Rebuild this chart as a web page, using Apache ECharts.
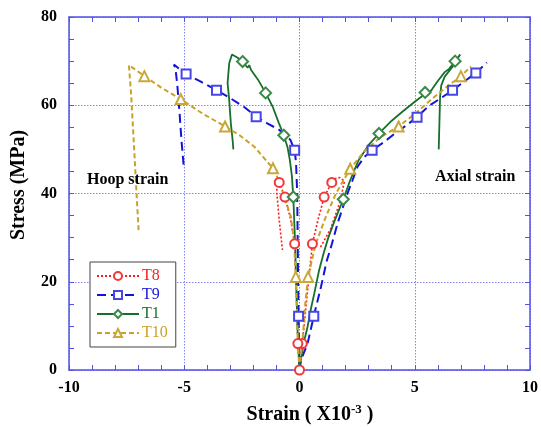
<!DOCTYPE html>
<html>
<head>
<meta charset="utf-8">
<script src="https://cdn.jsdelivr.net/npm/echarts@6/dist/echarts.min.js"></script>
<style>html,body{margin:0;padding:0;background:#fff}#c{width:541px;height:427px}</style>
</head>
<body>
<div id="c"></div>
<script>
// ---- data (strain x10^-3, stress MPa) ----
var xTicks = [-10, -5, 0, 5, 10];
var yTicks = [0, 20, 40, 60, 80];

var t8Axial = [[0,0],[0.12,6],[0.22,11],[0.33,17],[0.45,23],[0.56,28.6],[0.8,34],[1.07,39.2],[1.4,42.5],[1.55,43.4],[1.75,43.6],[1.95,42.8],[1.75,38],[1.35,32],[0.87,27.4]];
var t8AxialMarks = [[0,0],[0.12,6],[0.56,28.6],[1.07,39.2],[1.4,42.5]];
var t8Hoop = [[0,0],[-0.07,6],[-0.13,17],[-0.21,28.6],[-0.4,34.5],[-0.63,39.2],[-0.88,42.5],[-1.0,43.3],[-0.98,40],[-0.88,34],[-0.74,27.2]];
var t8HoopMarks = [[-0.07,6],[-0.21,28.6],[-0.63,39.2],[-0.88,42.5]];

var t9Axial = [[0,0],[0.06,2.2],[0.35,6],[0.62,12.2],[0.93,18.8],[1.17,24.5],[1.4,28.5],[1.65,33.2],[2.08,40],[2.3,43],[2.51,46],[2.8,48.2],[3.15,49.8],[3.7,51.8],[4.14,53.6],[4.6,55.3],[5.1,57.3],[5.6,59.8],[6.1,61.5],[6.64,63.4],[7.1,65.2],[7.65,67.3],[8.13,69.7]];
var t9AxialMarks = [[0.62,12.2],[3.15,49.8],[5.1,57.3],[6.64,63.4],[7.65,67.3]];
var t9Hoop = [[0,0],[-0.02,5],[-0.04,12.2],[-0.06,20],[-0.08,30],[-0.1,40],[-0.15,47],[-0.21,49.8],[-0.4,52.2],[-0.9,54.5],[-1.4,55.9],[-1.88,57.4],[-2.4,59.6],[-3.0,61.6],[-3.6,63.4],[-4.3,65.4],[-4.92,67.1],[-5.2,68.2],[-5.45,69.2],[-5.38,68.3],[-5.3,64.5],[-5.2,58],[-5.12,52],[-5.02,46]];
var t9HoopMarks = [[-0.04,12.2],[-0.21,49.8],[-1.88,57.4],[-3.6,63.4],[-4.92,67.1]];

var t1Axial = [[0,0],[0.08,3],[0.2,6.5],[0.35,9.8],[0.5,14],[0.64,17.3],[0.85,22.6],[1.05,26.5],[1.25,30],[1.5,33.5],[1.9,38.7],[2.2,43],[2.55,47.4],[3.0,51],[3.45,53.6],[4.0,56.5],[4.5,58.7],[5.0,60.8],[5.3,62],[5.45,62.9],[5.55,62.3],[5.75,63.6],[6.0,65.5],[6.3,67.5],[6.5,68.3],[6.75,70],[6.97,71.5],[6.65,68.8],[6.3,66.5],[6.15,64.5],[6.1,62],[6.07,56],[6.04,50]];
var t1AxialMarks = [[1.9,38.7],[3.45,53.6],[5.45,62.9],[6.75,70]];
var t1Hoop = [[0,0],[-0.05,5],[-0.09,9.8],[-0.13,17],[-0.16,22.6],[-0.19,28.7],[-0.23,34],[-0.27,39.2],[-0.33,44],[-0.42,47.6],[-0.52,50.5],[-0.68,53.2],[-0.9,56],[-1.15,59.5],[-1.47,62.8],[-1.8,65.8],[-2.1,68],[-2.18,69.1],[-2.25,68.5],[-2.47,69.9],[-2.7,70.8],[-2.93,71.5],[-3.05,69.5],[-3.12,65],[-3.05,61.2],[-2.98,56],[-2.9,52],[-2.87,50]];
var t1HoopMarks = [[-0.27,39.2],[-0.68,53.2],[-1.47,62.8],[-2.47,69.9]];

var t10Axial = [[0,0],[0.15,8],[0.25,15],[0.37,21.1],[0.71,28.7],[1.14,34.7],[1.58,40],[2.2,45.6],[2.8,49.5],[3.5,52.7],[4.3,55.2],[5.0,58],[5.6,60.8],[6.3,63.8],[7.0,66.6],[7.44,68.8]];
var t10AxialMarks = [[0.37,21.1],[2.2,45.6],[4.3,55.2],[7.0,66.6]];
var t10Hoop = [[0,0],[-0.08,8],[-0.16,21.1],[-0.23,28.7],[-0.37,34.7],[-0.66,39.2],[-0.9,43],[-1.15,45.7],[-1.5,47.8],[-1.96,50.6],[-2.6,53.2],[-3.23,55.2],[-3.7,56.6],[-4.2,58.1],[-4.7,59.8],[-5.15,61.4],[-6.0,64],[-6.73,66.6],[-7.4,69.1],[-7.3,62],[-7.17,49.8],[-7.07,40],[-6.98,31.7]];
var t10HoopMarks = [[-0.16,21.1],[-1.15,45.7],[-3.23,55.2],[-5.15,61.4],[-6.73,66.6]];

var seriesNames = ['T8', 'T9', 'T1', 'T10'];
var annotations = ['Hoop strain', 'Axial strain'];

// ---- styles ----
var SERIF = '"Liberation Serif", "Times New Roman", serif';
var AXIS_COLOR = '#5252e6';
var GRID_COLOR = '#8585f2';
var styles = {
  T8:  {color: '#ff1a1a', mark: '#f03a3a', dash: [2, 2], width: 1.6, symbol: 'circle', size: 9},
  T9:  {color: '#1414d8', mark: '#4646e8', dash: [9, 5], width: 2,   symbol: 'rect',   size: 9},
  T1:  {color: '#17702a', mark: '#3c8a4a', dash: 'solid', width: 1.8, symbol: 'diamond', size: 11},
  T10: {color: '#c9a227', mark: '#c9a83a', dash: [5, 3], width: 2,   symbol: 'triangle', size: 10}
};

function makeSeries(name, pts, marks) {
  var s = styles[name];
  var isMark = function (p) {
    return marks.some(function (m) { return m[0] === p[0] && m[1] === p[1]; });
  };
  return {
    type: 'line',
    name: name,
    xAxisIndex: 0, yAxisIndex: 0,
    showSymbol: true,
    showAllSymbol: true,
    symbol: 'empty' + s.symbol.charAt(0).toUpperCase() + s.symbol.slice(1),
    symbolSize: s.size,
    itemStyle: {color: s.mark, borderColor: s.mark, borderWidth: 1},
    lineStyle: {color: s.color, width: s.width, type: s.dash},
    color: s.color,
    data: pts.map(function (p) {
      return isMark(p) ? {value: p} : {value: p, symbol: 'none'};
    }),
    animation: false,
    silent: true
  };
}

var series = [
  makeSeries('T8', t8Axial, t8AxialMarks),
  makeSeries('T9', t9Axial, t9AxialMarks),
  makeSeries('T1', t1Axial, t1AxialMarks),
  makeSeries('T10', t10Axial, t10AxialMarks),
  makeSeries('T8', t8Hoop, t8HoopMarks),
  makeSeries('T9', t9Hoop, t9HoopMarks),
  makeSeries('T1', t1Hoop, t1HoopMarks),
  makeSeries('T10', t10Hoop, t10HoopMarks)
];

function axisBase(min, max, interval, minorSplit) {
  return {
    type: 'value', min: min, max: max, interval: interval,
    axisLine: {show: true, onZero: false, lineStyle: {color: AXIS_COLOR, width: 1.5}},
    axisTick: {show: true, inside: true, length: 5, lineStyle: {color: AXIS_COLOR, width: 1}},
    minorTick: {show: true, splitNumber: minorSplit, length: 5, lineStyle: {color: AXIS_COLOR, width: 1}},
    splitLine: {show: false}
  };
}

var xMain = axisBase(xTicks[0], xTicks[xTicks.length - 1], xTicks[1] - xTicks[0], 5);
xMain.position = 'bottom';
xMain.axisLabel = {show: true, margin: 10, color: '#000', fontFamily: SERIF, fontWeight: 'bold', fontSize: 16};
xMain.splitLine = {show: true, lineStyle: {color: GRID_COLOR, type: [1.5, 1.5], width: 1}};
var xTop = axisBase(xTicks[0], xTicks[xTicks.length - 1], xTicks[1] - xTicks[0], 5);
xTop.position = 'top';
xTop.axisLabel = {show: false};

var yMain = axisBase(yTicks[0], yTicks[yTicks.length - 1], yTicks[1] - yTicks[0], 4);
yMain.position = 'left';
yMain.axisLabel = {show: true, margin: 12, color: '#000', fontFamily: SERIF, fontWeight: 'bold', fontSize: 16};
yMain.splitLine = {show: true, lineStyle: {color: GRID_COLOR, type: [1.5, 1.5], width: 1}};
var yRight = axisBase(yTicks[0], yTicks[yTicks.length - 1], yTicks[1] - yTicks[0], 4);
yRight.position = 'right';
yRight.axisLabel = {show: false};

var chart = echarts.init(document.getElementById('c'), null, {renderer: 'canvas'});
chart.setOption({
  animation: false,
  backgroundColor: '#fff',
  grid: {left: 69, right: 10, top: 17, bottom: 57, containLabel: false},
  xAxis: [xMain, xTop],
  yAxis: [yMain, yRight],
  legend: {
    show: true,
    orient: 'vertical',
    left: 90, top: 262,
    width: 84,
    padding: [6, 8, 6, 6],
    itemGap: 3,
    itemWidth: 42,
    itemHeight: 10,
    borderColor: '#444', borderWidth: 1,
    backgroundColor: '#fff',
    selectedMode: false,
    data: seriesNames.map(function (n) {
      return {name: n, textStyle: {color: styles[n].color}};
    }),
    textStyle: {fontFamily: SERIF, fontSize: 16, padding: [0, 0, 0, -2]}
  },
  graphic: [
    {type: 'text', left: 87, top: 172, z: 50,
     style: {text: annotations[0], font: 'bold 16px ' + SERIF, fill: '#000'}},
    {type: 'text', left: 435, top: 169, z: 50,
     style: {text: annotations[1], font: 'bold 16px ' + SERIF, fill: '#000'}},
    {type: 'text', x: 19, y: 185, rotation: Math.PI / 2, z: 50,
     style: {text: 'Stress (MPa)', font: 'bold 20px ' + SERIF, fill: '#000', align: 'center', verticalAlign: 'middle'}},
    {type: 'text', x: 310, y: 415, z: 50,
     style: {text: 'Strain ( X10{sup|-3} )', font: 'bold 20px ' + SERIF, fill: '#000', align: 'center', verticalAlign: 'middle',
       rich: {sup: {font: 'bold 13px ' + SERIF, fill: '#000', verticalAlign: 'top', padding: [0, 0, 10, 0]}}}}
  ],
  series: series
});
</script>
</body>
</html>
